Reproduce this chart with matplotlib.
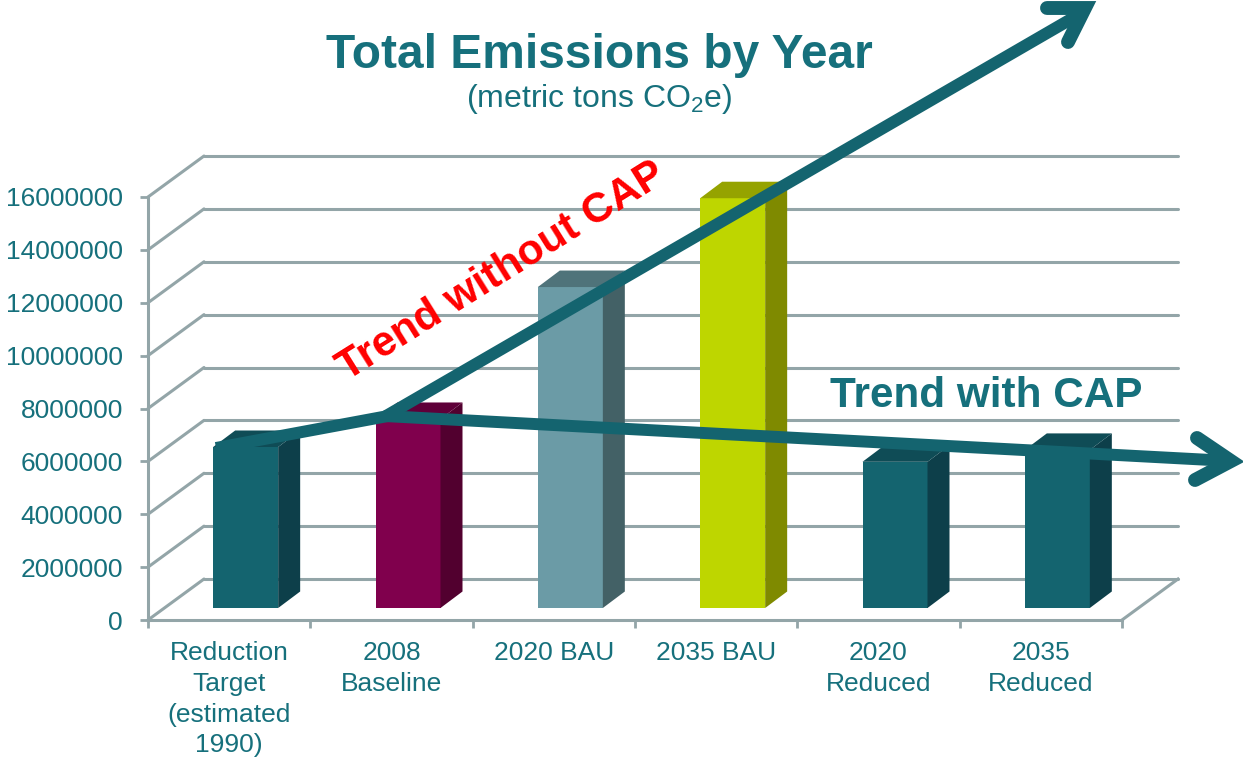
import matplotlib
matplotlib.use("Agg")
import matplotlib.pyplot as plt
import matplotlib.transforms as mtrans
from matplotlib.patches import Polygon

categories = ["Reduction\nTarget\n(estimated\n1990)", "2008\nBaseline", "2020 BAU", "2035 BAU",
              "2020\nReduced", "2035\nReduced"]
values = [6090000, 7150000, 12140000, 15500000, 5530000, 5980000]
front_colors = ["#14646F", "#80004D", "#6B9BA6", "#BED600", "#14646F", "#14646F"]
side_colors = ["#0D3F4A", "#52002F", "#436166", "#7F8A00", "#0D3F4A", "#0D3F4A"]
top_colors = ["#0F4C56", "#5F0039", "#4F737A", "#95A300", "#0F4C56", "#0F4C56"]
y_ticks = list(range(0, 16000001, 2000000))

TEAL = "#14646F"
LABEL = "#16707C"
GRID = "#93A5A8"
W, H = 1243, 760
plt.rcParams["font.family"] = "Liberation Sans"
plt.rcParams["mathtext.fontset"] = "custom"
plt.rcParams["mathtext.rm"] = "Liberation Sans"
plt.rcParams["mathtext.default"] = "rm"

fig = plt.figure(figsize=(W / 100, H / 100), dpi=100, facecolor="white")
ax = fig.add_axes([148 / W, (H - 620) / H, (1122 - 148) / W, (620 - 197) / H])
ax.patch.set_visible(False)
ax.set_xlim(0, 6)
ax.set_ylim(0, 16000000)

# pixel-sized depth offsets of the pseudo-3D chart
def shift(dx, dy):
    return ax.transData + mtrans.Affine2D().translate(dx, dy)

px_x = 6 / (1122 - 148)
px_y = 16000000 / (620 - 197)

# walls and floor
wall_dx, wall_dy = 56 * px_x, 41 * px_y
for v in y_ticks:
    ax.plot([0, wall_dx], [v, v + wall_dy], color=GRID, lw=2.2, clip_on=False, zorder=1,
            solid_capstyle="round")
    ax.plot([wall_dx, 6 + wall_dx], [v + wall_dy, v + wall_dy], color=GRID, lw=2.2, clip_on=False,
            zorder=1, solid_capstyle="round")
ax.plot([6, 6 + wall_dx], [0, wall_dy], color=GRID, lw=2.2, clip_on=False, zorder=1)

# bars
bar_w = 65 * px_x
base_dx, base_dy = 16.5, 12
depth_x, depth_y = 22 * px_x, 16.5 * px_y
for i, v in enumerate(values):
    xc = i + 0.5
    x0, x1 = xc - bar_w / 2, xc + bar_w / 2
    t = shift(base_dx, base_dy)
    ax.bar(xc, v, width=bar_w, color=front_colors[i], transform=t, zorder=3, clip_on=False,
           linewidth=0)
    ax.add_patch(Polygon([(x1, 0), (x1 + depth_x, depth_y), (x1 + depth_x, v + depth_y), (x1, v)],
                         closed=True, fc=side_colors[i], ec="none", transform=t, zorder=3, clip_on=False))
    ax.add_patch(Polygon([(x0, v), (x0 + depth_x, v + depth_y), (x1 + depth_x, v + depth_y), (x1, v)],
                         closed=True, fc=top_colors[i], ec="none", transform=t, zorder=3, clip_on=False))

# axes
for s in ("top", "right"):
    ax.spines[s].set_visible(False)
for s in ("left", "bottom"):
    ax.spines[s].set_color(GRID)
    ax.spines[s].set_linewidth(2.2)
    ax.spines[s].set_zorder(2)
ax.set_yticks(y_ticks)
ax.set_yticklabels([str(v) for v in y_ticks])
ax.tick_params(axis="y", length=6, width=2, color=GRID, labelcolor=LABEL, labelsize=19, pad=12)
ax.set_xticks(range(7))
ax.set_xticklabels([""] * 7)
ax.tick_params(axis="x", which="major", length=6, width=2, color=GRID)
ax.set_xticks([i + 0.5 for i in range(6)], minor=True)
ax.set_xticklabels(categories, minor=True, fontsize=19, color=LABEL, linespacing=1.36)
ax.tick_params(axis="x", which="minor", length=0, pad=15)

# overlay in image pixels
ov = fig.add_axes([0, 0, 1, 1], zorder=5)
ov.patch.set_visible(False)
ov.set_axis_off()
ov.set_xlim(0, W)
ov.set_ylim(H, 0)

LW = 8.6
ov.plot([216, 388], [448, 416], color=TEAL, lw=LW, solid_capstyle="butt")
ov.plot([386, 1085], [416, 11], color=TEAL, lw=LW, solid_capstyle="butt")
ov.plot([1047, 1085, 1068], [8, 8, 42], color=TEAL, lw=10.0, solid_capstyle="round",
        solid_joinstyle="miter", clip_on=False)
ov.plot([384, 1230], [416, 461], color=TEAL, lw=LW, solid_capstyle="butt")
ov.plot([1197, 1231, 1195], [438, 461, 480], color=TEAL, lw=10.0, solid_capstyle="round",
        solid_joinstyle="miter")

ov.text(599, 55, "Total Emissions by Year", color=LABEL, fontsize=34.5, fontweight="bold",
        ha="center", va="center")
ov.text(599, 99, "(metric tons CO$_2$e)", color=LABEL, fontsize=23, ha="center", va="center")
ov.text(986, 396, "Trend with CAP", color=LABEL, fontsize=30.4, fontweight="bold", ha="center", va="center")
ov.text(502, 271, "Trend without CAP", color="#FF0000", fontsize=30.4, fontweight="bold", ha="center",
        va="center", rotation=32, rotation_mode="anchor")

fig.savefig("out.png", dpi=100)
